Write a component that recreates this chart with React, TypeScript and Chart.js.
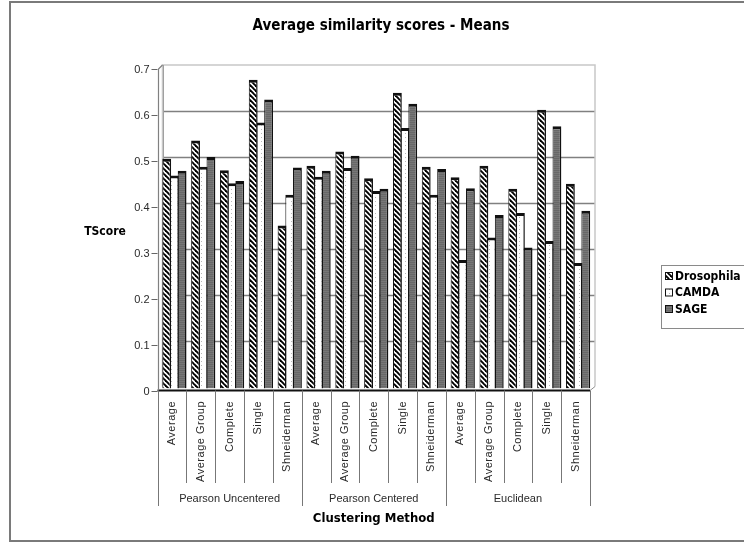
import React, { useEffect, useRef } from "react";
import { Chart, registerables } from "chart.js";

Chart.register(...registerables);

// Clustering methods, repeated within each distance measure
const methods = ["Average", "Average Group", "Complete", "Single", "Shneiderman"];
const groups = ["Pearson Uncentered", "Pearson Centered", "Euclidean"];
const categories = groups.flatMap(() => methods);

const seriesNames = ["Drosophila", "CAMDA", "SAGE"];

const drosophila = [
  0.5, 0.54, 0.475, 0.672, 0.355,
  0.485, 0.516, 0.458, 0.644, 0.483,
  0.46, 0.485, 0.435, 0.607, 0.446,
];
const camda = [
  0.464, 0.483, 0.447, 0.579, 0.422,
  0.461, 0.48, 0.43, 0.567, 0.422,
  0.28, 0.329, 0.382, 0.321, 0.273,
];
const sage = [
  0.474, 0.504, 0.452, 0.629, 0.481,
  0.474, 0.507, 0.435, 0.62, 0.478,
  0.436, 0.378, 0.307, 0.571, 0.387,
];

const yTicks = [0, 0.1, 0.2, 0.3, 0.4, 0.5, 0.6, 0.7];

const titleText = "Average similarity scores - Means";
const yTitle = "TScore";
const xTitle = "Clustering Method";

const SANS = '"Liberation Sans", Arial, sans-serif';
const NARROW = '"Liberation Sans Narrow", "DejaVu Sans Condensed", "Liberation Sans", sans-serif';

function makeTile(w: number, h: number, paint: (c: CanvasRenderingContext2D) => void) {
  const cv = document.createElement("canvas");
  cv.width = w;
  cv.height = h;
  const c = cv.getContext("2d")!;
  paint(c);
  return cv;
}

function makePatterns(ctx: CanvasRenderingContext2D) {
  const hatch = makeTile(5, 5, (c) => {
    c.fillStyle = "#ffffff";
    c.fillRect(0, 0, 5, 5);
    c.strokeStyle = "#000000";
    c.lineWidth = 1.9;
    for (let k = -1; k <= 1; k++) {
      c.beginPath();
      c.moveTo(k * 5 - 1, -1);
      c.lineTo(k * 5 + 6, 6);
      c.stroke();
    }
  });
  const dots = makeTile(6, 4, (c) => {
    c.fillStyle = "#ffffff";
    c.fillRect(0, 0, 6, 4);
    c.fillStyle = "#b8b8b8";
    c.fillRect(3, 1, 1, 1);
  });
  const gray = makeTile(2, 2, (c) => {
    c.fillStyle = "#686868";
    c.fillRect(0, 0, 2, 2);
    c.fillStyle = "#777777";
    c.fillRect(0, 1, 2, 1);
  });
  return [
    ctx.createPattern(hatch, "repeat")!,
    ctx.createPattern(dots, "repeat")!,
    ctx.createPattern(gray, "repeat")!,
  ];
}

// depth offsets of the back wall and front plane relative to the bar plane
const BACK = { dx: 2.5, dy: -2 };
const FRONT = { dx: -2.5, dy: 2 };

const framePlugin = {
  id: "frame3d",
  beforeDatasetsDraw(chart: any) {
    const { ctx, chartArea: a, scales } = chart;
    const y = scales.y;
    ctx.save();
    const bl = a.left + BACK.dx;
    const br = a.right + BACK.dx;
    const bt = y.getPixelForValue(0.7) + BACK.dy;
    const bb = y.getPixelForValue(0) + BACK.dy;
    // gridlines on the back wall
    ctx.lineWidth = 1.4;
    ctx.strokeStyle = "#808080";
    yTicks.forEach((v) => {
      if (v <= 0 || v >= 0.7) return;
      const py = Math.round(y.getPixelForValue(v) + BACK.dy) + 0.5;
      ctx.beginPath();
      ctx.moveTo(bl, py);
      ctx.lineTo(br, py);
      ctx.stroke();
    });
    // back wall outline
    ctx.lineWidth = 1.5;
    ctx.strokeStyle = "#c8c8c8";
    ctx.beginPath();
    ctx.moveTo(bl, bb);
    ctx.lineTo(bl, bt);
    ctx.lineTo(br, bt);
    ctx.lineTo(br, bb);
    ctx.stroke();
    ctx.strokeStyle = "#a0a0a0";
    ctx.lineWidth = 1;
    ctx.beginPath();
    ctx.moveTo(Math.round(bl) + 0.5, bb);
    ctx.lineTo(Math.round(bl) + 0.5, bt);
    ctx.stroke();
    ctx.restore();
  },
  afterDatasetsDraw(chart: any, _args: any, opts: any) {
    const { ctx, chartArea: a, scales } = chart;
    const x = scales.x;
    const y = scales.y;
    const patterns = opts.patterns as CanvasPattern[];
    ctx.save();

    const fl = a.left + FRONT.dx;
    const fr = a.right + FRONT.dx;
    const fb = y.getPixelForValue(0) + FRONT.dy;
    const ft = y.getPixelForValue(0.7) + FRONT.dy;
    const bb = y.getPixelForValue(0) + BACK.dy;
    const bt = y.getPixelForValue(0.7) + BACK.dy;

    // floor edge
    ctx.strokeStyle = "#111";
    ctx.lineWidth = 2;
    ctx.beginPath();
    ctx.moveTo(fl, fb);
    ctx.lineTo(fr, fb);
    ctx.stroke();
    ctx.strokeStyle = "#909090";
    ctx.lineWidth = 1;
    ctx.beginPath();
    ctx.moveTo(fr, fb);
    ctx.lineTo(a.right + BACK.dx, bb);
    ctx.stroke();

    // front value axis
    ctx.strokeStyle = "#808080";
    ctx.lineWidth = 1.2;
    ctx.beginPath();
    ctx.moveTo(Math.round(fl) + 0.5, fb);
    ctx.lineTo(Math.round(fl) + 0.5, ft);
    ctx.lineTo(a.left + BACK.dx, bt);
    ctx.stroke();

    ctx.fillStyle = "#2a2a2a";
    ctx.font = `11px ${SANS}`;
    ctx.textAlign = "right";
    ctx.textBaseline = "middle";
    yTicks.forEach((v) => {
      const py = Math.round(y.getPixelForValue(v) + FRONT.dy) + 0.5;
      ctx.strokeStyle = "#666";
      ctx.lineWidth = 1;
      ctx.beginPath();
      ctx.moveTo(fl - 6, py);
      ctx.lineTo(fl, py);
      ctx.stroke();
      ctx.fillText(String(v), fl - 8, py);
    });

    // category separators and labels
    const step = x.getPixelForValue(1) - x.getPixelForValue(0);
    ctx.strokeStyle = "#777";
    ctx.lineWidth = 1;
    for (let i = 0; i <= categories.length; i++) {
      const bx = Math.round(x.getPixelForValue(0) - step / 2 + i * step + FRONT.dx) + 0.5;
      const bottom = i % methods.length === 0 ? 506 : 483;
      ctx.beginPath();
      ctx.moveTo(bx, fb);
      ctx.lineTo(bx, bottom);
      ctx.stroke();
    }
    ctx.fillStyle = "#2a2a2a";
    ctx.font = `11px ${SANS}`;
    (ctx as any).letterSpacing = "0.5px";
    categories.forEach((label, i) => {
      const cx = x.getPixelForValue(i) + FRONT.dx;
      ctx.save();
      ctx.translate(cx, 401);
      ctx.rotate(-Math.PI / 2);
      ctx.textAlign = "right";
      ctx.textBaseline = "middle";
      ctx.fillText(label, 0, 0);
      ctx.restore();
    });
    (ctx as any).letterSpacing = "0px";
    ctx.textAlign = "center";
    ctx.textBaseline = "middle";
    groups.forEach((g, gi) => {
      const first = gi * methods.length;
      const last = first + methods.length - 1;
      const cx = (x.getPixelForValue(first) + x.getPixelForValue(last)) / 2 + FRONT.dx;
      ctx.fillText(g, cx, 499);
    });

    // axis titles
    ctx.fillStyle = "#000";
    ctx.font = `bold 13px ${NARROW}`;
    ctx.fillText(xTitle, (fl + fr) / 2, 519);
    ctx.font = `bold 12px ${NARROW}`;
    ctx.fillText(yTitle, 105, 232);

    // chart title
    ctx.font = `bold 15px ${NARROW}`;
    ctx.fillText(titleText, 381, 26);

    // legend
    const lx = 661;
    const ly = 265;
    ctx.strokeStyle = "#8a8a8a";
    ctx.lineWidth = 1;
    ctx.strokeRect(lx + 0.5, ly + 0.5, 120, 63);
    const rows = [276, 292.5, 309];
    ctx.font = `bold 12px ${NARROW}`;
    ctx.textAlign = "left";
    seriesNames.forEach((name, i) => {
      const ry = rows[i];
      ctx.fillStyle = patterns[i];
      ctx.fillRect(665, ry - 4, 8, 8);
      ctx.strokeStyle = "#111";
      ctx.strokeRect(665.5, ry - 3.5, 7, 7);
      ctx.fillStyle = "#000";
      ctx.fillText(name, 675, ry + 0.5);
    });

    // outer chart border
    ctx.strokeStyle = "#7a7a7a";
    ctx.lineWidth = 2;
    ctx.beginPath();
    ctx.moveTo(760, 2);
    ctx.lineTo(10, 2);
    ctx.lineTo(10, 541);
    ctx.lineTo(760, 541);
    ctx.stroke();

    ctx.restore();
  },
};

export default function App() {
  const canvasRef = useRef<HTMLCanvasElement | null>(null);

  useEffect(() => {
    const canvas = canvasRef.current;
    if (!canvas) return;
    const ctx = canvas.getContext("2d")!;
    const patterns = makePatterns(ctx);
    const values = [drosophila, camda, sage];

    const chart = new Chart(ctx, {
      type: "bar",
      data: {
        labels: categories,
        datasets: seriesNames.map((name, i) => ({
          label: name,
          data: values[i],
          backgroundColor: patterns[i],
          borderColor: "#111111",
          borderWidth: { top: 3, left: 1, right: 1.5, bottom: 0 },
          borderSkipped: "start",
          categoryPercentage: 0.8,
          barPercentage: 1.15,
        })),
      },
      options: {
        responsive: false,
        maintainAspectRatio: false,
        animation: false,
        devicePixelRatio: 1,
        layout: { padding: { left: 160, right: 151.5, top: 67, bottom: 156.5 } },
        scales: {
          x: { display: false },
          y: { display: false, min: 0, max: 0.7 },
        },
        plugins: {
          legend: { display: false },
          title: { display: false },
          tooltip: { enabled: false },
          frame3d: { patterns },
        } as any,
      },
      plugins: [framePlugin],
    });

    return () => chart.destroy();
  }, []);

  return (
    <div style={{ position: "absolute", left: 0, top: 0, width: 744, height: 545, background: "#fff" }}>
      <canvas ref={canvasRef} width={744} height={545} style={{ display: "block", width: 744, height: 545 }} />
    </div>
  );
}
